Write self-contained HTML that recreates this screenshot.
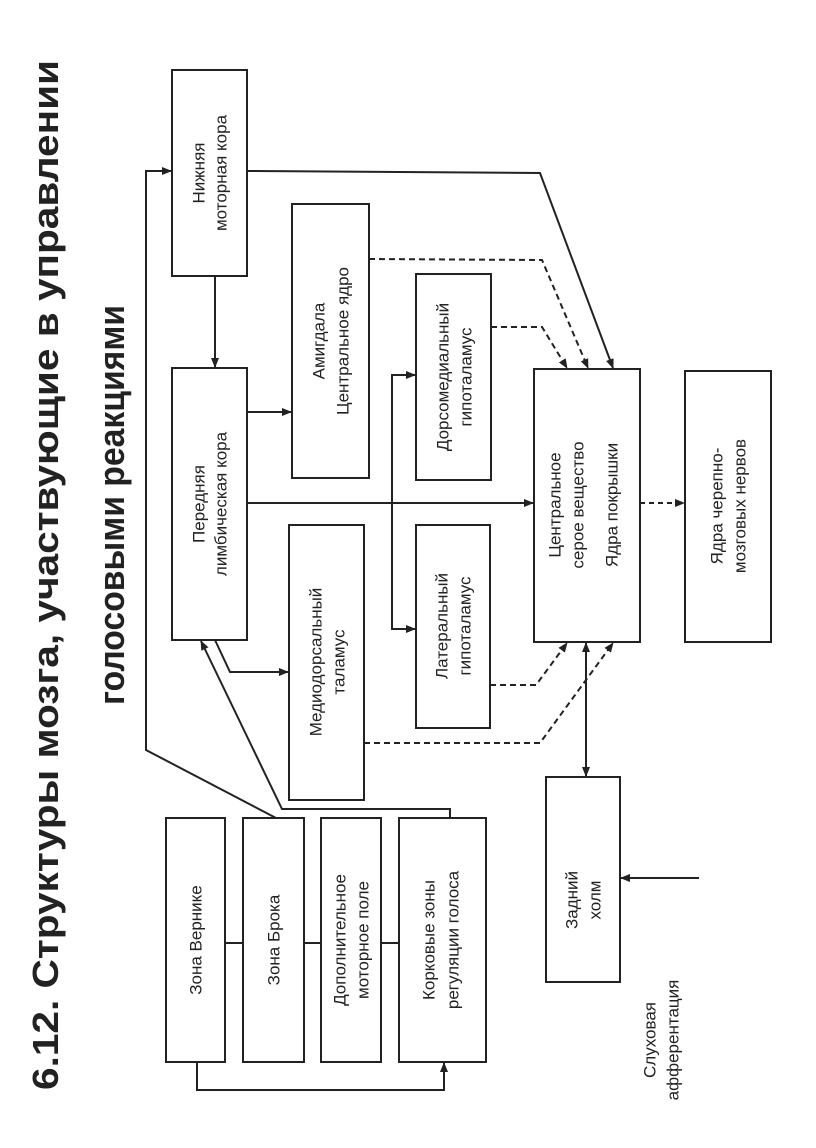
<!DOCTYPE html>
<html><head><meta charset="utf-8"><style>
html,body{margin:0;padding:0;background:#fff;}
svg{display:block;}
text{font-family:"Liberation Sans",sans-serif;fill:#222;}
</style></head><body>
<svg width="816" height="1148" viewBox="0 0 816 1148" xmlns="http://www.w3.org/2000/svg">
<defs>
<marker id="a" markerWidth="10" markerHeight="8" refX="9" refY="4" orient="auto" markerUnits="userSpaceOnUse"><path d="M0,0 L10,4 L0,8 Z" fill="#222"/></marker>
<marker id="s" markerWidth="10" markerHeight="8" refX="1" refY="4" orient="auto" markerUnits="userSpaceOnUse"><path d="M10,0 L0,4 L10,8 Z" fill="#222"/></marker>
</defs>
<g fill="none" stroke="#222" stroke-width="2">
<rect x="172" y="70" width="75" height="206"/>
<rect x="172" y="368" width="75" height="272"/>
<rect x="292" y="204" width="77" height="274"/>
<rect x="416" y="274" width="75" height="206"/>
<rect x="289" y="525" width="75" height="275"/>
<rect x="416" y="525" width="74" height="203"/>
<rect x="534" y="369" width="106" height="273"/>
<rect x="685" y="371" width="86" height="271"/>
<rect x="546" y="777" width="74" height="205"/>
<rect x="166" y="818" width="59" height="244"/>
<rect x="243" y="818" width="61" height="244"/>
<rect x="321" y="818" width="60" height="244"/>
<rect x="399" y="818" width="87" height="244"/>
<line x1="225" y1="943" x2="243" y2="943"/>
<line x1="304" y1="943" x2="321" y2="943"/>
<line x1="381" y1="943" x2="399" y2="943"/>
<polyline points="197,1062 197,1090 444,1090 444,1063" marker-end="url(#a)"/>
<polyline points="276,818 146,750 146,171 171,171" marker-end="url(#a)"/>
<polyline points="450,818 450,809 282,809 201,641" marker-end="url(#a)"/>
<line x1="215" y1="276" x2="215" y2="367" marker-end="url(#a)"/>
<polyline points="247,171 540,173 613,368" marker-end="url(#a)"/>
<line x1="247" y1="412" x2="291" y2="412" marker-end="url(#a)"/>
<line x1="247" y1="503" x2="533" y2="503" marker-end="url(#a)"/>
<polyline points="415,375 392,375 392,629 415,629" marker-start="url(#s)" marker-end="url(#a)"/>
<polyline points="215,640 230,672 288,672" marker-end="url(#a)"/>
<line x1="640" y1="503" x2="684" y2="503" stroke-dasharray="5,4" marker-end="url(#a)"/>
<line x1="586" y1="643" x2="586" y2="776" marker-start="url(#s)" marker-end="url(#a)"/>
<line x1="699" y1="878" x2="621" y2="878" marker-end="url(#a)"/>
</g>
<g fill="none" stroke="#222" stroke-width="2" stroke-dasharray="6,4">
<polyline points="369,259 542,260 588,368" marker-end="url(#a)"/>
<polyline points="491,327 542,327 567,368" marker-end="url(#a)"/>
<polyline points="490,685 536,685 567,643" marker-end="url(#a)"/>
<polyline points="364,743 540,743 613,643" marker-end="url(#a)"/>
</g>
<g font-weight="bold" font-size="36">
<text transform="translate(58,1090) rotate(-90)" textLength="1030" lengthAdjust="spacingAndGlyphs">6.12. Структуры мозга, участвующие в управлении</text>
<text transform="translate(124,505) rotate(-90)" text-anchor="middle" textLength="400" lengthAdjust="spacingAndGlyphs">голосовыми реакциями</text>
</g>
<g font-size="17" text-anchor="middle" dominant-baseline="central">
<text transform="translate(199,173) rotate(-90)">Нижняя</text>
<text transform="translate(221,173) rotate(-90)">моторная кора</text>
<text transform="translate(199,504) rotate(-90)">Передняя</text>
<text transform="translate(221,504) rotate(-90)">лимбическая кора</text>
<text transform="translate(319,341) rotate(-90)">Амигдала</text>
<text transform="translate(343,341) rotate(-90)">Центральное ядро</text>
<text transform="translate(443,377) rotate(-90)">Дорсомедиальный</text>
<text transform="translate(466,377) rotate(-90)">гипоталамус</text>
<text transform="translate(316,662) rotate(-90)">Медиодорсальный</text>
<text transform="translate(339,662) rotate(-90)">таламус</text>
<text transform="translate(442,626) rotate(-90)">Латеральный</text>
<text transform="translate(465,626) rotate(-90)">гипоталамус</text>
<text transform="translate(555,505) rotate(-90)">Центральное</text>
<text transform="translate(578,505) rotate(-90)">серое вещество</text>
<text transform="translate(612,505) rotate(-90)">Ядра покрышки</text>
<text transform="translate(717,506) rotate(-90)">Ядра черепно-</text>
<text transform="translate(740,506) rotate(-90)">мозговых нервов</text>
<text transform="translate(572,900) rotate(-90)">Задний</text>
<text transform="translate(595,900) rotate(-90)">холм</text>
<text transform="translate(196,940) rotate(-90)">Зона Вернике</text>
<text transform="translate(274,940) rotate(-90)">Зона Брока</text>
<text transform="translate(340,940) rotate(-90)">Дополнительное</text>
<text transform="translate(363,940) rotate(-90)">моторное поле</text>
<text transform="translate(429,940) rotate(-90)">Корковые зоны</text>
<text transform="translate(453,940) rotate(-90)">регуляции голоса</text>
<text transform="translate(650,1040) rotate(-90)">Слуховая</text>
<text transform="translate(673,1040) rotate(-90)">афферентация</text>
</g>
</svg>
</body></html>
